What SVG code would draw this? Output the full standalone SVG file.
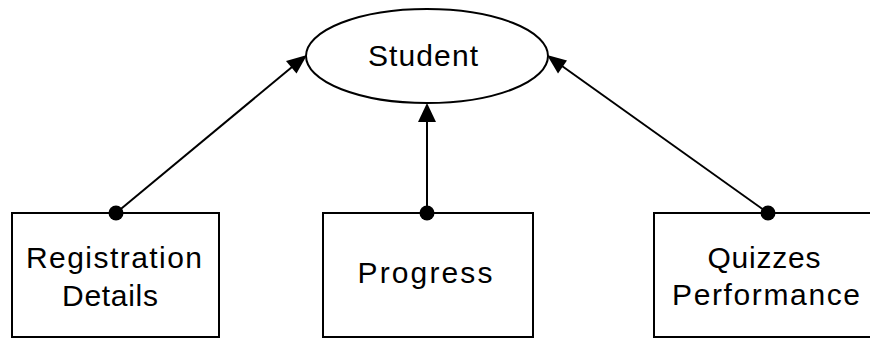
<svg xmlns="http://www.w3.org/2000/svg" width="870" height="339" viewBox="0 0 870 339">
  <style>
    .shape { fill: #fff; stroke: #000; stroke-width: 2; }
    .link { stroke: #000; stroke-width: 2; fill: none; }
    .dot { fill: #000; }
    .head { fill: #000; }
    .label { font-family: "Liberation Sans", Arial, sans-serif; font-size: 30px; fill: #000; text-anchor: middle; }
  </style>
  <rect width="870" height="339" fill="#fff" />

  <g id="student">
    <ellipse class="shape" cx="427" cy="56" rx="121" ry="47" />
    <text class="label" x="423" y="66" textLength="110" lengthAdjust="spacing">Student</text>
  </g>

  <g id="registration-details">
    <rect class="shape" x="12" y="213" width="207" height="124" />
    <text class="label" x="114" y="268" textLength="176" lengthAdjust="spacing">Registration</text>
    <text class="label" x="110" y="306" textLength="96" lengthAdjust="spacing">Details</text>
  </g>

  <g id="progress">
    <rect class="shape" x="323" y="213" width="210" height="124" />
    <text class="label" x="425" y="283" textLength="135" lengthAdjust="spacing">Progress</text>
  </g>

  <g id="quizzes-performance">
    <rect class="shape" x="654" y="213" width="230" height="124" />
    <text class="label" x="764" y="268" textLength="113" lengthAdjust="spacing">Quizzes</text>
    <text class="label" x="766" y="305" textLength="188" lengthAdjust="spacing">Performance</text>
  </g>

  <g id="connectors">
    <path class="link" d="M116,213 L292,67" />
    <path class="head" d="M307,55 L286,61 L296.5,73.5 Z" />
    <path class="link" d="M427,213 L427,120" />
    <path class="head" d="M427,103 L418,122 L436,122 Z" />
    <path class="link" d="M768,213 L562,66" />
    <path class="head" d="M547,55 L558,73.5 L567,60.5 Z" />
    <circle class="dot" cx="116" cy="213" r="7.5" />
    <circle class="dot" cx="427" cy="213" r="7.5" />
    <circle class="dot" cx="768" cy="213" r="7.5" />
  </g>
</svg>
